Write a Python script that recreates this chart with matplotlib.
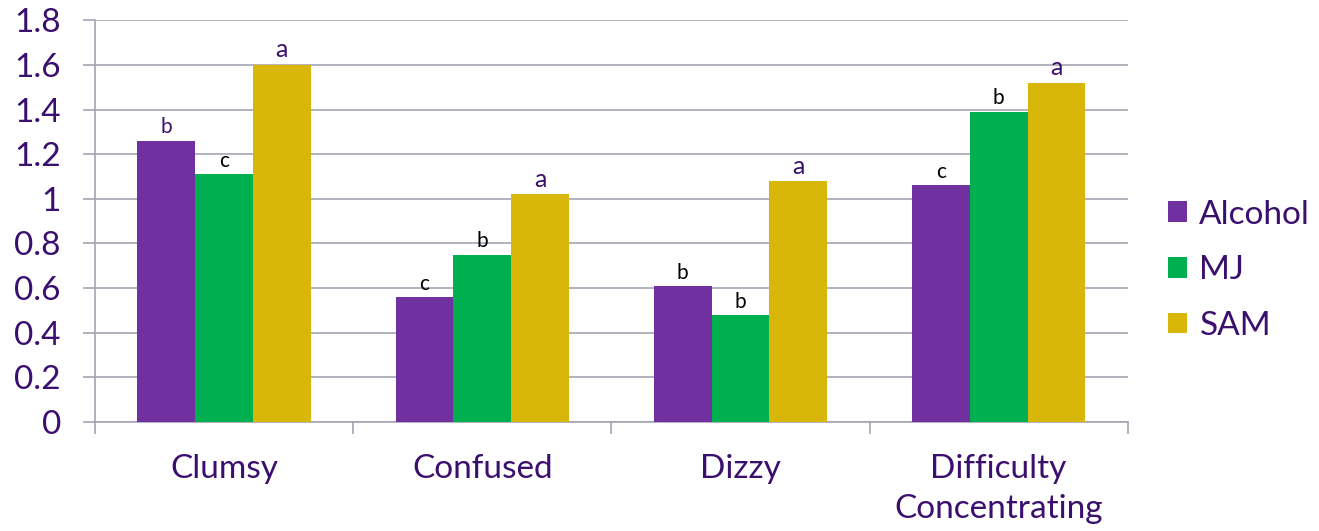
import matplotlib.pyplot as plt
import numpy as np

categories = ['Clumsy', 'Confused', 'Dizzy', 'Difficulty\nConcentrating']
series = ['Alcohol', 'MJ', 'SAM']
alcohol = [1.26, 0.56, 0.61, 1.06]
mj = [1.11, 0.75, 0.48, 1.39]
sam = [1.60, 1.02, 1.08, 1.52]
letters_alcohol = ['b', 'c', 'b', 'c']
letters_mj = ['c', 'b', 'b', 'b']
letters_sam = ['a', 'a', 'a', 'a']

colors = ['#7030A0', '#00B050', '#D9B70A']
text_color = '#3A0F6E'
grid_color = '#A6A4B4'

plt.rcParams['font.family'] = ['Lato', 'DejaVu Sans']

fig = plt.figure(figsize=(13.19, 5.31), dpi=100)
ax = fig.add_axes([0.072, 0.205, 0.783, 0.757])

x = np.arange(len(categories))
w = 0.224
values = [alcohol, mj, sam]
letters = [letters_alcohol, letters_mj, letters_sam]
for i, (vals, lets, c, name) in enumerate(zip(values, letters, colors, series)):
    pos = x + (i - 1) * w
    ax.bar(pos, vals, width=w, color=c, label=name, zorder=3)
    for p, v, t in zip(pos, vals, lets):
        purple = t == 'a' or (i == 0 and p < 0.5)
        ax.text(p, v + 0.015, t, ha='center', va='bottom',
                fontsize=18 if t == 'a' else 15,
                color=text_color if purple else 'black', zorder=4)

ax.set_xlim(-0.5, len(categories) - 0.5)
ax.set_ylim(0, 1.8)
ax.set_yticks(np.arange(0, 1.81, 0.2))
ax.set_yticklabels(['0', '0.2', '0.4', '0.6', '0.8', '1', '1.2', '1.4', '1.6', '1.8'])
ax.yaxis.grid(True, color=grid_color, linewidth=1.2, zorder=0)

ax.set_xticks(x)
ax.set_xticklabels(categories, linespacing=1.42)
ax.set_xticks(np.arange(-0.5, len(categories)), minor=True)
ax.tick_params(axis='x', which='major', length=0, pad=23,
               labelsize=24, labelcolor=text_color)
ax.tick_params(axis='x', which='minor', length=8.6, width=1.2, color=grid_color)
ax.tick_params(axis='y', length=8.6, width=1.2, color=grid_color, pad=16,
               labelsize=24, labelcolor=text_color)

for s in ['top', 'right']:
    ax.spines[s].set_visible(False)
for s in ['left', 'bottom']:
    ax.spines[s].set_color(grid_color)
    ax.spines[s].set_linewidth(1.2)

leg = ax.legend(loc='center left', bbox_to_anchor=(1.01, 0.378), frameon=False,
                fontsize=24, handlelength=0.58, handleheight=0.58,
                handletextpad=0.36, labelspacing=0.77)
for t in leg.get_texts():
    t.set_color(text_color)

fig.savefig('out.png', dpi=100)
